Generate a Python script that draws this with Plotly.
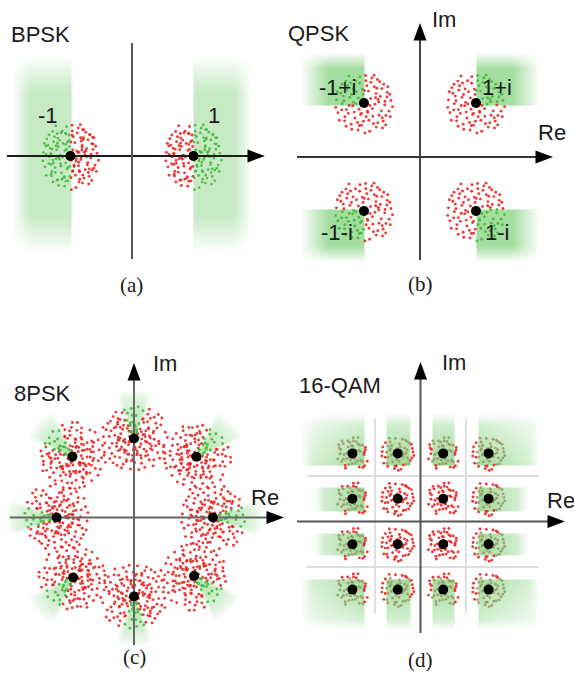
import numpy as np
import plotly.graph_objects as go

# ---------------- constellation data ----------------
BPSK_RE = [-1.0, 1.0]
BPSK_IM = [0.0, 0.0]
BPSK_LABELS = ["-1", "1"]

QPSK_RE = [-1.0, 1.0, -1.0, 1.0]
QPSK_IM = [1.0, 1.0, -1.0, -1.0]
QPSK_LABELS = ["-1+i", "1+i", "-1-i", "1-i"]

PSK8_RE = [1.0, 0.79, 0.0, -0.78, -0.98, -0.77, 0.0, 0.76]
PSK8_IM = [0.0, 0.77, 1.0, 0.77, 0.0, -0.76, -1.0, -0.74]

QAM16_LEVELS = [-3, -1, 1, 3]
QAM16_RE = [x for y in QAM16_LEVELS[::-1] for x in QAM16_LEVELS]
QAM16_IM = [y for y in QAM16_LEVELS[::-1] for x in QAM16_LEVELS]

# received-sample offsets around a symbol, in hundredths of the cluster radius
NOISE = [
    (12, -30), (-45, 18), (33, 52), (-8, -71), (67, 5), (-71, -22), (5, 88), (-29, -48), (48, -39), (-55, 41),
    (21, 14), (80, -26), (-14, 63), (-62, -57), (39, -77), (-3, 27), (57, 46), (-36, -9), (16, -55), (-88, 10),
    (74, 34), (-19, -86), (2, -12), (43, 75), (-50, -33), (27, -18), (-77, 49), (61, -58), (-24, 36), (9, 55),
    (-41, -68), (86, 8), (-66, 22), (35, -4), (-11, -37), (52, 21), (-58, 70), (18, -90), (-33, 2), (70, -40),
    (-5, 44), (44, -63), (-83, -31), (25, 80), (-47, -8), (63, 60), (-16, -20), (7, -44), (-69, -2), (38, 30),
    (-27, 71), (91, -12), (-52, 55), (14, 38), (-39, -84), (55, -25), (-9, 9), (76, 52), (-61, -44), (30, -66),
    (-21, -62), (47, 3), (-74, 31), (3, -96), (59, -80), (-43, 64), (22, 66), (-90, -14), (66, -6), (-13, 84),
    (37, 17), (-56, -21), (11, -26), (82, 28), (-31, -29), (50, 68), (-2, -58), (-64, 7), (28, -42), (-79, -55),
    (41, 47), (-18, 16), (69, -70), (-48, 86), (6, 71), (-35, 45), (58, -47), (-70, 60), (19, -8), (-26, -3),
    (84, -44), (-8, -33), (45, 11), (-57, -74), (32, 89), (-40, 27), (73, 19), (-15, -72), (1, 40), (-85, 36),
]

PANEL_TITLES = ["BPSK", "QPSK", "8PSK", "16-QAM"]
PANEL_TAGS = ["(a)", "(b)", "(c)", "(d)"]

# ---------------- page geometry (pixels) ----------------
W, H = 574, 673
GEOM = [
    dict(box=(0, 287, 20, 272), org=(132, 156), u=(61.5, 61.5)),
    dict(box=(287, 574, 0, 272), org=(420, 157), u=(56, 54)),
    dict(box=(0, 287, 340, 652), org=(134, 517.5), u=(79, 79)),
    dict(box=(287, 574, 340, 652), org=(420.5, 521.5), u=(22.7, 22.7)),
]

FONT = "Liberation Sans, Arial, sans-serif"
SERIF = "Liberation Serif, Times New Roman, serif"
RED = "rgba(232,40,36,0.9)"
GREEN = "rgba(70,185,60,0.9)"
OLIVE = "rgba(150,148,92,0.8)"
SHADE = [[0, "rgb(255,255,255)"], [1, "rgb(140,212,135)"]]


def to_data(p, px, py):
    g = GEOM[p]
    return (px - g["org"][0]) / g["u"][0], (g["org"][1] - py) / g["u"][1]


def ranges(p):
    g = GEOM[p]
    x0, x1, y0, y1 = g["box"]
    ox, oy = g["org"]
    ux, uy = g["u"]
    return [(x0 - ox) / ux, (x1 - ox) / ux], [(oy - y1) / uy, (oy - y0) / uy]


def ramp(d, w):
    return np.clip(d / w, 0.0, 1.0)


# ---------------- decision regions ----------------
def bpsk_region(k, X, Y):
    u = np.sign(BPSK_RE[k]) * X
    return (u >= abs(BPSK_RE[k])) & (u <= 1.95) & (Y >= -1.56) & (Y <= 1.64)


def bpsk_field(X, Y):
    z = np.zeros_like(X)
    for k in range(len(BPSK_RE)):
        u = np.sign(BPSK_RE[k]) * X
        f = ramp(1.95 - u, 0.3) * ramp(1.64 - Y, 0.6) * ramp(Y + 1.56, 0.6)
        z = np.maximum(z, np.where(bpsk_region(k, X, Y), 0.5 * f, 0))
    return z


def qpsk_region(k, X, Y):
    u = np.sign(QPSK_RE[k]) * X
    v = np.sign(QPSK_IM[k]) * Y
    return (u >= abs(QPSK_RE[k])) & (u <= 2.14) & (v >= abs(QPSK_IM[k]) - 0.03) & (v <= 1.94)


def qpsk_field(X, Y):
    z = np.zeros_like(X)
    for k in range(len(QPSK_RE)):
        u = np.sign(QPSK_RE[k]) * X
        v = np.sign(QPSK_IM[k]) * Y
        f = ramp(2.14 - u, 0.5) * ramp(1.94 - v, 0.3)
        z = np.maximum(z, np.where(qpsk_region(k, X, Y), 0.8 * f, 0))
    return z


FAN_HALF = np.radians(24)
FAN_LEN = 0.62


def psk8_fan(k, X, Y):
    px, py = PSK8_RE[k], PSK8_IM[k]
    r = np.hypot(px, py)
    dx, dy = px / r, py / r
    vx, vy = X - px, Y - py
    along = vx * dx + vy * dy
    perp = np.abs(vx * dy - vy * dx)
    ang = np.arctan2(perp, along)
    dist = np.hypot(vx, vy)
    return ang, dist


def psk8_region(k, X, Y):
    ang, dist = psk8_fan(k, X, Y)
    return (ang <= FAN_HALF) & (dist <= FAN_LEN)


def psk8_field(X, Y):
    z = np.zeros_like(X)
    for k in range(len(PSK8_RE)):
        ang, dist = psk8_fan(k, X, Y)
        f = np.clip(1 - dist / FAN_LEN, 0, 1) ** 0.6 * ramp(FAN_HALF - ang, np.radians(8))
        z = np.maximum(z, np.where(psk8_region(k, X, Y), 0.7 * f, 0))
    return z


def qam_extent(k):
    px, py = QAM16_RE[k], QAM16_IM[k]
    xout = 5.3 if abs(py) == 3 else 4.75
    return px, py, xout, 4.8


def qam_region(k, X, Y):
    px, py, xout, yout = qam_extent(k)
    if max(abs(px), abs(py)) < 3:
        return np.zeros_like(X, dtype=bool)
    if abs(px) == 3:
        u = np.sign(px) * X
        inx = (u >= 2.5) & (u <= xout)
    else:
        inx = np.abs(X - px) <= 0.5
    if abs(py) == 3:
        v = np.sign(py) * Y
        iny = (v >= 2.5) & (v <= yout)
    else:
        iny = np.abs(Y - py) <= 0.5
    return inx & iny


def qam_field(X, Y):
    z = np.zeros_like(X)
    for k in range(len(QAM16_RE)):
        px, py, xout, yout = qam_extent(k)
        if max(abs(px), abs(py)) < 3:
            continue
        fx = np.ones_like(X)
        fy = np.ones_like(Y)
        if abs(px) == 3:
            u = np.sign(px) * X
            t = (u - 2.5) / (xout - 2.5)
            fx = (1 - 0.7 * t) * ramp(xout - u, 0.5)
        if abs(py) == 3:
            v = np.sign(py) * Y
            t = (v - 2.5) / (yout - 2.5)
            fy = (1 - 0.7 * t) * ramp(yout - v, 0.5)
        z = np.maximum(z, np.where(qam_region(k, X, Y), 0.85 * fx * fy, 0))
    return z


def cluster(cx, cy, sx, sy, rot=0.0, step=1, start=0):
    d = np.array(NOISE[start::step], dtype=float) / 100.0
    c, s = np.cos(rot), np.sin(rot)
    dx = d[:, 0] * c - d[:, 1] * s
    dy = d[:, 0] * s + d[:, 1] * c
    return cx + sx * dx, cy + sy * dy


fig = go.Figure()
axis_names = [("x", "y"), ("x2", "y2"), ("x3", "y3"), ("x4", "y4")]
fields = [bpsk_field, qpsk_field, psk8_field, qam_field]

# shaded decision regions
for p in range(4):
    xr, yr = ranges(p)
    ux, uy = GEOM[p]["u"]
    xs = np.arange(xr[0], xr[1] + 1e-9, 2.0 / ux)
    ys = np.arange(yr[0], yr[1] + 1e-9, 2.0 / uy)
    X, Y = np.meshgrid(xs, ys)
    z = np.round(fields[p](X, Y), 3)
    xa, ya = axis_names[p]
    fig.add_trace(go.Heatmap(x=np.round(xs, 4), y=np.round(ys, 4), z=z, colorscale=SHADE,
                             zmin=0, zmax=1, zsmooth="best", showscale=False,
                             hoverinfo="skip", xaxis=xa, yaxis=ya))

# 16-QAM decision boundaries
for b in (-2, 2):
    fig.add_trace(go.Scatter(x=[b, b], y=[4.55, -4.05], mode="lines",
                             line=dict(color="rgb(222,222,222)", width=2),
                             hoverinfo="skip", xaxis="x4", yaxis="y4"))
    fig.add_trace(go.Scatter(x=[-5.0, 5.2], y=[b, b], mode="lines",
                             line=dict(color="rgb(222,222,222)", width=2),
                             hoverinfo="skip", xaxis="x4", yaxis="y4"))


def add_samples(xs, ys, mask, xa, ya, in_color, in_size, out_size=2.9):
    fig.add_trace(go.Scatter(x=xs[~mask], y=ys[~mask], mode="markers",
                             marker=dict(color=RED, size=out_size, line=dict(width=0)),
                             hoverinfo="skip", xaxis=xa, yaxis=ya))
    fig.add_trace(go.Scatter(x=xs[mask], y=ys[mask], mode="markers",
                             marker=dict(color=in_color, size=in_size, line=dict(width=0)),
                             hoverinfo="skip", xaxis=xa, yaxis=ya))


# BPSK samples
for k in range(len(BPSK_RE)):
    x1, y1 = cluster(BPSK_RE[k], BPSK_IM[k], 0.5, 0.57)
    x2, y2 = cluster(BPSK_RE[k], BPSK_IM[k], 0.45, 0.51, rot=np.pi / 2, step=2)
    xs, ys = np.concatenate([x1, x2]), np.concatenate([y1, y2])
    add_samples(xs, ys, bpsk_region(k, xs, ys), "x", "y", GREEN, 2.7)

# QPSK samples
for k in range(len(QPSK_RE)):
    xs, ys = cluster(QPSK_RE[k], QPSK_IM[k], 0.56, 0.58)
    add_samples(xs, ys, qpsk_region(k, xs, ys), "x2", "y2", GREEN, 2.9)

# 8PSK samples
for k in range(len(PSK8_RE)):
    th = np.arctan2(PSK8_IM[k], PSK8_RE[k])
    x1, y1 = cluster(PSK8_RE[k], PSK8_IM[k], 0.44, 0.44, rot=th)
    x2, y2 = cluster(PSK8_RE[k], PSK8_IM[k], 0.3, 0.3, rot=th + np.pi / 2, step=2)
    xs, ys = np.concatenate([x1, x2]), np.concatenate([y1, y2])
    add_samples(xs, ys, psk8_region(k, xs, ys), "x3", "y3", GREEN, 2.9)

# 16-QAM samples
for k in range(len(QAM16_RE)):
    xs, ys = cluster(QAM16_RE[k], QAM16_IM[k], 0.78, 0.78, step=2, start=k % 2)
    add_samples(xs, ys, qam_region(k, xs, ys), "x4", "y4", OLIVE, 2.9)

# coordinate axes (pixel extents): horizontal start/arrow base, vertical bottom/arrow base
AXES = [
    dict(h=(7, 248), v=(259, 43), harrow=True, varrow=False, hc="#1c1c1c", vc="#555555"),
    dict(h=(297, 536), v=(260, 40), harrow=True, varrow=True, hc="#333333", vc="#444444"),
    dict(h=(10, 267), v=(645, 380), harrow=True, varrow=True, hc="#666666", vc="#666666"),
    dict(h=(297, 548), v=(633, 379), harrow=True, varrow=True, hc="#555555", vc="#555555"),
]
HEAD_LEN, HEAD_HALF = 17, 6.5
shapes = []
for p, a in enumerate(AXES):
    xa, ya = axis_names[p]
    ox, oy = GEOM[p]["org"]
    hx0, _ = to_data(p, a["h"][0], oy)
    hx1, _ = to_data(p, a["h"][1], oy)
    _, vy0 = to_data(p, ox, a["v"][0])
    _, vy1 = to_data(p, ox, a["v"][1])
    fig.add_trace(go.Scatter(x=[hx0, hx1], y=[0, 0], mode="lines",
                             line=dict(color=a["hc"], width=2), hoverinfo="skip",
                             xaxis=xa, yaxis=ya))
    fig.add_trace(go.Scatter(x=[0, 0], y=[vy0, vy1], mode="lines",
                             line=dict(color=a["vc"], width=2), hoverinfo="skip",
                             xaxis=xa, yaxis=ya))
    ux, uy = GEOM[p]["u"]
    if a["harrow"]:
        bx = hx1 - 0.5 / ux
        tx = hx1 + HEAD_LEN / ux
        hh = HEAD_HALF / uy
        shapes.append(dict(type="path", xref=xa, yref=ya, layer="above",
                           path=f"M{bx},{hh} L{tx},0 L{bx},{-hh} Z",
                           fillcolor="black", line=dict(width=0)))
    if a["varrow"]:
        by = vy1 - 0.5 / uy
        ty = vy1 + HEAD_LEN / uy
        hw = HEAD_HALF / ux
        shapes.append(dict(type="path", xref=xa, yref=ya, layer="above",
                           path=f"M{-hw},{by} L0,{ty} L{hw},{by} Z",
                           fillcolor="black", line=dict(width=0)))

# ideal constellation points
for (re, im), (xa, ya) in zip([(BPSK_RE, BPSK_IM), (QPSK_RE, QPSK_IM),
                               (PSK8_RE, PSK8_IM), (QAM16_RE, QAM16_IM)], axis_names):
    fig.add_trace(go.Scatter(x=re, y=im, mode="markers",
                             marker=dict(color="black", size=10, line=dict(width=0)),
                             hoverinfo="skip", xaxis=xa, yaxis=ya))

# ---------------- text ----------------
ann = []


def text(px, py, s, size=22, family=FONT, xanchor="left"):
    ann.append(dict(x=px / W, y=1 - py / H, xref="paper", yref="paper", text=s,
                    showarrow=False, xanchor=xanchor, yanchor="middle",
                    font=dict(family=family, size=size, color="#1a1a1a")))


TITLE_POS = [(9, 34), (286, 33), (12, 393), (297, 385)]
TAG_POS = [(131, 285), (420, 284), (134, 657), (420, 660)]
for s, (px, py) in zip(PANEL_TITLES, TITLE_POS):
    text(px, py, s)
for s, (px, py) in zip(PANEL_TAGS, TAG_POS):
    text(px, py, s, size=21, family=SERIF, xanchor="center")

for s, (px, py) in zip(BPSK_LABELS, [(48, 115), (214, 115)]):
    text(px, py, s, xanchor="center")
for s, (px, py) in zip(QPSK_LABELS, [(337, 88), (497, 88), (337, 232), (497, 232)]):
    text(px, py, s, xanchor="center")

for px, py in [(430, 19), (151, 363), (440, 362)]:
    text(px, py, "Im")
for px, py in [(536, 133), (249, 497), (545, 500)]:
    text(px, py, "Re")

# ---------------- layout ----------------
layout = dict(width=W, height=H, margin=dict(l=0, r=0, t=0, b=0),
              paper_bgcolor="white", plot_bgcolor="white", showlegend=False,
              shapes=shapes, annotations=ann)
for p, (xa, ya) in enumerate(axis_names):
    g = GEOM[p]
    x0, x1, y0, y1 = g["box"]
    xr, yr = ranges(p)
    suffix = "" if p == 0 else str(p + 1)
    layout["xaxis" + suffix] = dict(domain=[x0 / W, x1 / W], range=xr, visible=False,
                                    anchor=ya, fixedrange=True)
    layout["yaxis" + suffix] = dict(domain=[1 - y1 / H, 1 - y0 / H], range=yr, visible=False,
                                    anchor=xa, fixedrange=True)
fig.update_layout(**layout)

fig.write_html("out.html")
